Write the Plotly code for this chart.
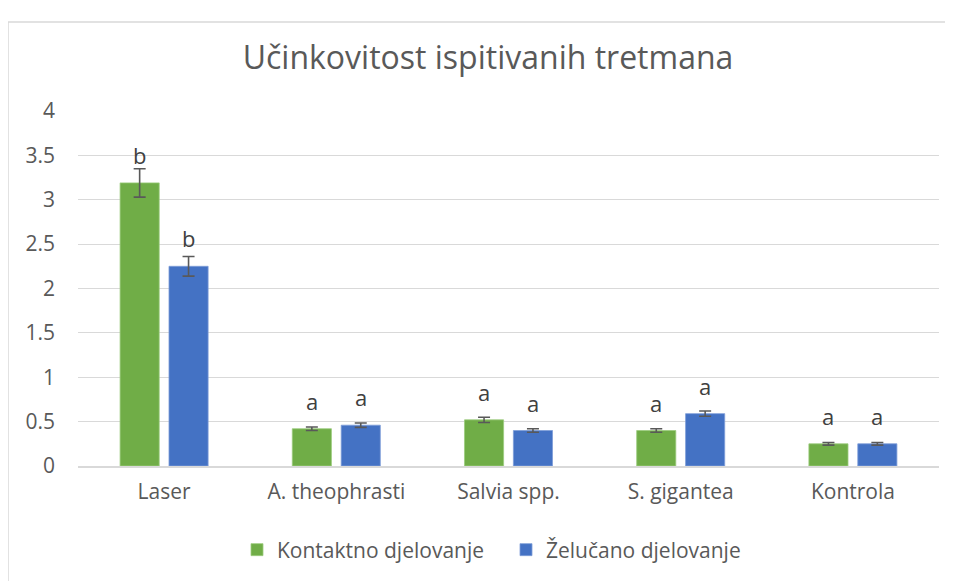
import plotly.graph_objects as go

categories = ["Laser", "A. theophrasti", "Salvia spp.", "S. gigantea", "Kontrola"]
kontaktno = [3.19, 0.42, 0.52, 0.40, 0.25]
kontaktno_err = [0.16, 0.02, 0.03, 0.02, 0.015]
kontaktno_lbl = ["b", "a", "a", "a", "a"]
zelucano = [2.25, 0.46, 0.40, 0.59, 0.25]
zelucano_err = [0.11, 0.025, 0.02, 0.03, 0.015]
zelucano_lbl = ["b", "a", "a", "a", "a"]

GREEN = "#70AD47"
BLUE = "#4472C4"
TXT = "#595959"
FONT = "Open Sans"

# page is rendered with an 8px body offset; figure coords = screen - 8
L, R_EDGE, TOP, ZERO = 70, 931, 103, 458
W, H = 953, 581

fig = go.Figure()
fig.add_trace(go.Bar(
    name="Kontaktno djelovanje", x=categories, y=kontaktno,
    marker=dict(color=GREEN, line=dict(color="#9CCB7E", width=0.8)),
    error_y=dict(type="data", array=kontaktno_err, color="#595959", thickness=1.6, width=6),
))
fig.add_trace(go.Bar(
    name="Želučano djelovanje", x=categories, y=zelucano,
    marker=dict(color=BLUE, line=dict(color="#7D9DD8", width=0.8)),
    error_y=dict(type="data", array=zelucano_err, color="#595959", thickness=1.6, width=6),
))

annotations = []
for vals, lbls, shift in [(kontaktno, kontaktno_lbl, -24.5),
                          (zelucano, zelucano_lbl, 24.5)]:
    for c, v, l in zip(categories, vals, lbls):
        annotations.append(dict(
            x=c, y=v, xref="x", yref="y", text=l, showarrow=False,
            xshift=shift, yanchor="bottom", yshift=11,
            font=dict(family=FONT, size=22, color="#404040"),
        ))

fig.update_layout(
    width=W, height=H,
    paper_bgcolor="white", plot_bgcolor="white",
    margin=dict(l=L, r=W - R_EDGE, t=TOP, b=H - ZERO),
    barmode="group", bargap=0.432, bargroupgap=0.2,
    title=dict(text="Učinkovitost ispitivanih tretmana", x=480 / W, xref="container",
               xanchor="center", y=1 - 50 / H, yref="container", yanchor="middle",
               font=dict(family=FONT, size=32, color=TXT)),
    font=dict(family=FONT, size=21, color=TXT),
    showlegend=True,
    legend=dict(orientation="h", x=498 / W, xref="container", xanchor="center",
                y=1 - 542 / H, yref="container", yanchor="middle",
                font=dict(family=FONT, size=21, color=TXT),
                itemwidth=30, entrywidth=224, traceorder="normal"),
    annotations=annotations,
    shapes=[dict(type="rect", xref="paper", yref="paper",
                 x0=(0 - L) / (R_EDGE - L), x1=(975 - L) / (R_EDGE - L),
                 y0=(ZERO - 600) / (ZERO - TOP), y1=(ZERO - 14) / (ZERO - TOP),
                 line=dict(color="#D9D9D9", width=1.5), fillcolor="rgba(0,0,0,0)",
                 layer="below")],
)
fig.update_xaxes(showgrid=False, showline=True, linecolor="#D9D9D9", linewidth=1.5,
                 ticks="", ticklabelstandoff=6,
                 tickfont=dict(family=FONT, size=21, color=TXT))
fig.update_yaxes(range=[0, 4], dtick=0.5, showgrid=True, gridcolor="#D9D9D9", gridwidth=1,
                 zeroline=False, showline=False, ticks="", ticklabelstandoff=22,
                 tickfont=dict(family=FONT, size=21, color=TXT))

fig.write_html("out.html")
